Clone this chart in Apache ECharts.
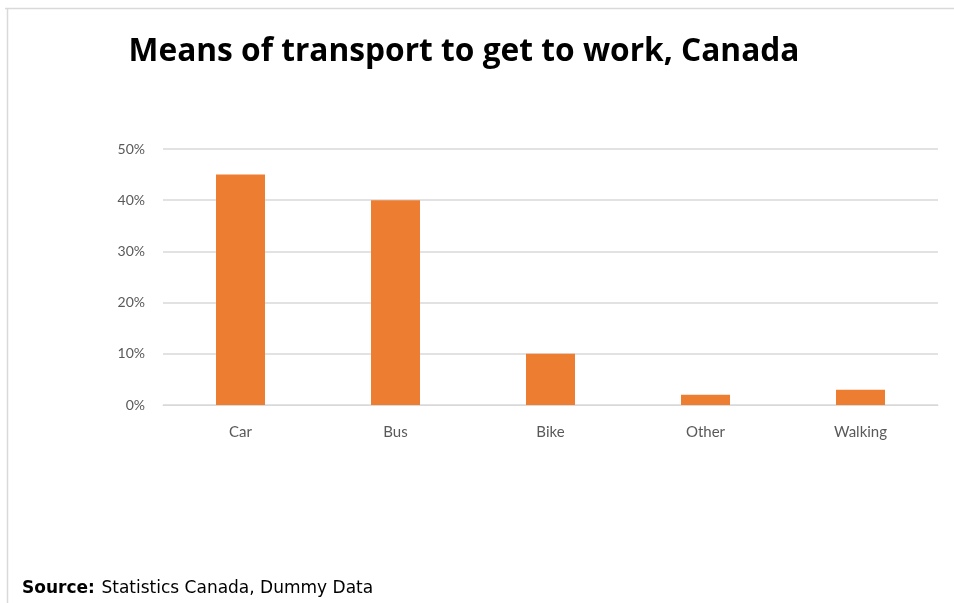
<!DOCTYPE html>
<html>
<head>
<meta charset="utf-8">
<script src="https://cdn.jsdelivr.net/npm/echarts@6/dist/echarts.min.js"></script>
<style>
  html, body { margin: 0; padding: 0; background: #fff; }
  #main { width: 954px; height: 603px; }
</style>
</head>
<body>
<div id="main"></div>
<script>
// 数据
const categories = ['Car', 'Bus', 'Bike', 'Other', 'Walking'];
const shares = [45, 40, 10, 2, 3];
const yTicks = [0, 10, 20, 30, 40, 50];

const chart = echarts.init(document.getElementById('main'));

chart.setOption({
  backgroundColor: '#fff',
  animation: false,
  title: {
    text: 'Means of transport to get to work, Canada',
    left: 459,
    top: 31,
    textAlign: 'center',
    textStyle: {
      fontFamily: '"Open Sans", sans-serif',
      fontWeight: 'bold',
      fontSize: 31.7,
      color: '#000'
    }
  },
  grid: {
    left: 163,
    right: 16,
    top: 149,
    bottom: 198
  },
  xAxis: {
    type: 'category',
    data: categories,
    axisLine: { show: true, lineStyle: { color: '#d9d9d9' } },
    axisTick: { show: false },
    axisLabel: {
      margin: 20,
      fontSize: 15,
      color: '#595959',
      fontFamily: 'Lato, sans-serif'
    }
  },
  yAxis: {
    type: 'value',
    min: yTicks[0],
    max: yTicks[yTicks.length - 1],
    interval: 10,
    axisLine: { show: false },
    axisTick: { show: false },
    splitLine: { lineStyle: { color: '#d9d9d9', width: 1.5 } },
    axisLabel: {
      margin: 18,
      fontSize: 14,
      color: '#595959',
      fontFamily: 'Lato, sans-serif',
      formatter: '{value}%'
    }
  },
  series: [
    {
      type: 'bar',
      data: shares,
      barWidth: 49,
      itemStyle: { color: '#ED7D31' }
    }
  ],
  graphic: [
    // 外框
    { type: 'line', shape: { x1: 5, y1: 8.5, x2: 954, y2: 8.5 }, style: { stroke: '#d9d9d9', lineWidth: 1.5 } },
    { type: 'line', shape: { x1: 7.5, y1: 8, x2: 7.5, y2: 603 }, style: { stroke: '#d9d9d9', lineWidth: 1.5 } },
    {
      type: 'text',
      left: 22,
      top: 580,
      style: {
        text: '{b|Source:}  {n|Statistics Canada, Dummy Data}',
        rich: {
          b: { fontFamily: '"DejaVu Sans", sans-serif', fontWeight: 'bold', fontSize: 17, color: '#000' },
          n: { fontFamily: '"DejaVu Sans", sans-serif', fontSize: 17, color: '#404040' }
        }
      }
    }
  ]
});
</script>
</body>
</html>
